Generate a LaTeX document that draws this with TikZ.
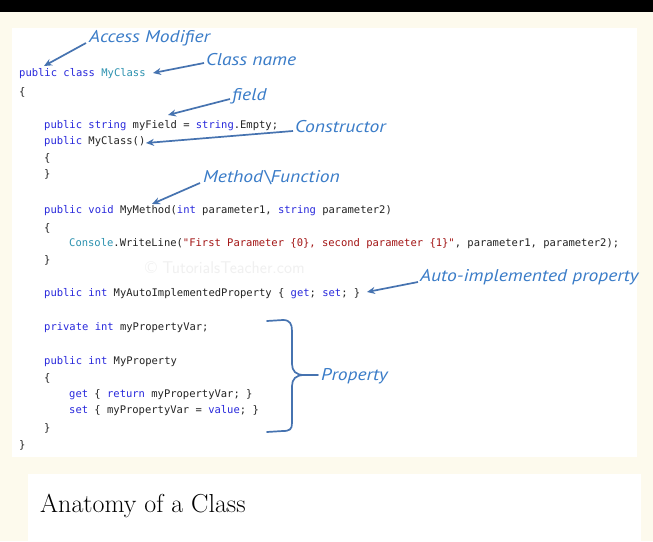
\documentclass[tikz,border=0pt]{standalone}
\usepackage{fontspec}
\usetikzlibrary{arrows.meta}
\newfontfamily\codefont{DejaVu Sans Mono}
\newfontfamily\notefont[FakeStretch=1.15]{PT Sans}
\definecolor{cream}{RGB}{253,250,237}
\definecolor{kwblue}{RGB}{40,40,220}
\definecolor{tyteal}{RGB}{43,145,175}
\definecolor{strred}{RGB}{163,21,21}
\definecolor{codegray}{RGB}{35,35,35}
\definecolor{noteblue}{RGB}{58,124,200}
\definecolor{arrblue}{RGB}{70,115,176}
\newcommand{\kw}[1]{\textcolor{kwblue}{#1}}
\newcommand{\ty}[1]{\textcolor{tyteal}{#1}}
\newcommand{\cstr}[1]{\textcolor{strred}{#1}}
\tikzset{
  codeline/.style={anchor=west, inner sep=0pt, text=codegray, font=\codefont\fontsize{10.5}{12}\selectfont},
  note/.style={anchor=west, inner sep=0pt, text=noteblue, font=\notefont\itshape\fontsize{17}{19}\selectfont},
  arr/.style={draw=arrblue, line width=1.7pt, -{Stealth[length=8pt,width=7pt]}},
  bracestyle/.style={draw=arrblue, line width=1.7pt, line cap=round, line join=round}
}
\begin{document}
\begin{tikzpicture}[x=1pt,y=-1pt]
\useasboundingbox (0,0) rectangle (653,541);
% backgrounds
\fill[cream] (0,0) rectangle (653,541);
\fill[black] (0,0) rectangle (653,12);
\fill[white] (12,28) rectangle (637,457);
\fill[white] (28,474) rectangle (641,541);
% watermark
\node[anchor=west, inner sep=0pt, text=black!6, font=\sffamily\fontsize{17}{18}\selectfont] (wm) at (145,268) {\textcopyright\ TutorialsTeacher.com};
% code
\node[codeline] (l1) at (19,74) {\kw{public} \kw{class} \ty{MyClass}};
\node[codeline] (l2) at (19,92) {\{};
\node[codeline] (l3) at (44,126) {\kw{public} \kw{string} myField = \kw{string}.Empty;};
\node[codeline] (l4) at (44,142) {\kw{public} MyClass()};
\node[codeline] (l5) at (44,158) {\{};
\node[codeline] (l6) at (44,174) {\}};
\node[codeline] (l7) at (44,211) {\kw{public} \kw{void} MyMethod(\kw{int} parameter1, \kw{string} parameter2)};
\node[codeline] (l8) at (44,228) {\{};
\node[codeline] (l9) at (69,244) {\ty{Console}.WriteLine(\cstr{"First Parameter \{0\}, second parameter \{1\}"}, parameter1, parameter2);};
\node[codeline] (l10) at (44,260) {\}};
\node[codeline] (l11) at (44,294) {\kw{public} \kw{int} MyAutoImplementedProperty \{ \kw{get}; \kw{set}; \}};
\node[codeline] (l12) at (44,328) {\kw{private} \kw{int} myPropertyVar;};
\node[codeline] (l13) at (44,362) {\kw{public} \kw{int} MyProperty};
\node[codeline] (l14) at (44,378) {\{};
\node[codeline] (l15) at (69,395) {\kw{get} \{ \kw{return} myPropertyVar; \}};
\node[codeline] (l16) at (69,411) {\kw{set} \{ myPropertyVar = \kw{value}; \}};
\node[codeline] (l17) at (44,428) {\}};
\node[codeline] (l18) at (19,445) {\}};
% notes
\node[note] (am) at (89,38) {Access Modifier};
\node[note] (cn) at (206,60) {Class name};
\node[note] (fd) at (232,96) {field};
\node[note] (ct) at (295,127) {Constructor};
\node[note] (mf) at (203,178) {Method\textbackslash Function};
\node[note] (ap) at (420,277) {Auto-implemented property};
\node[note] (pr) at (321,376) {Property};
% arrow targets
\coordinate (amT) at (44,66);
\coordinate (cnT) at (153,73);
\coordinate (fdT) at (168,115);
\coordinate (ctT) at (146,143);
\coordinate (mfT) at (152,204);
\coordinate (apT) at (367,292);
% arrows
\draw[arr] (86,43) -- (amT);
\draw[arr] (204,63) -- (cnT);
\draw[arr] (230,99) -- (fdT);
\draw[arr] (293,131) -- (ctT);
\draw[arr] (200,183) -- (mfT);
\draw[arr] (418,282) -- (apT);
% brace
\draw[bracestyle] (267,321) -- (283,320) .. controls (290,320) and (292,324) .. (292,331) -- (292,364)
  .. controls (292,371) and (296,375) .. (304,375) -- (318,375);
\draw[bracestyle] (304,375) .. controls (296,375) and (292,379) .. (292,386) -- (292,423)
  .. controls (292,429) and (290,431) .. (283,431) -- (267,432);
% title
\node[anchor=west, inner sep=0pt, font=\fontsize{26}{30}\selectfont] (title) at (40,506) {Anatomy of a Class};
\end{tikzpicture}
\end{document}
